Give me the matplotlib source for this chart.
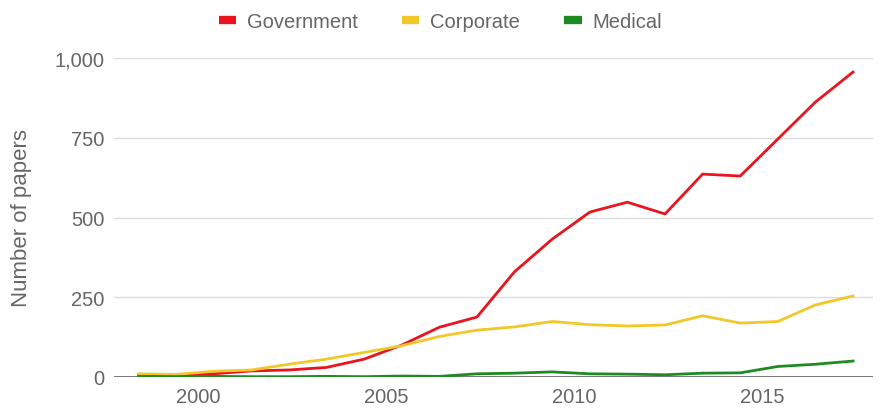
import matplotlib.pyplot as plt
from matplotlib.ticker import FuncFormatter

# yearly counts
years = list(range(1998, 2018))
government = [5, 5, 10, 19, 22, 30, 56, 100, 156, 188, 330, 432, 517, 548, 511, 636, 630, 746, 862, 956]
corporate = [10, 8, 18, 22, 40, 56, 77, 98, 127, 147, 157, 174, 164, 160, 163, 192, 169, 174, 226, 254]
medical = [2, 1, 2, 1, 1, 2, 1, 3, 2, 10, 12, 16, 10, 9, 7, 12, 13, 33, 40, 50]

y_ticks = [0, 250, 500, 750, 1000]
x_ticks = [2000, 2005, 2010, 2015]

TEXT = '#666666'
plt.rcParams['font.family'] = ['Liberation Sans', 'DejaVu Sans']

fig = plt.figure(figsize=(8.81, 4.14), dpi=100)
ax = fig.add_axes([114 / 881, 1 - 378 / 414, (873 - 114) / 881, (378 - 59) / 414])

# points sit mid-year on a date axis
xs = [y + 0.42 for y in years]
ax.plot(xs, government, color='#e8141e', lw=2.0, label='Government', solid_joinstyle='round')
ax.plot(xs, corporate, color='#f2c72a', lw=2.0, label='Corporate', solid_joinstyle='round')
ax.plot(xs, medical, color='#1e8a22', lw=2.0, label='Medical', solid_joinstyle='round')

ax.set_xlim(1997.77, 2017.95)
ax.set_ylim(0, 1000)
ax.set_yticks(y_ticks)
ax.set_xticks(x_ticks)
ax.yaxis.set_major_formatter(FuncFormatter(lambda v, p: '{:,.0f}'.format(v)))
ax.grid(axis='y', color='#dddddd', lw=1)
ax.axhline(0, color='#444444', lw=1.2, zorder=1)
for s in ax.spines.values():
    s.set_visible(False)
ax.tick_params(length=0, labelsize=14.5, colors=TEXT)
ax.tick_params(axis='y', pad=7)
ax.tick_params(axis='x', pad=7)
ax.set_ylabel('Number of papers', fontsize=16, color=TEXT, labelpad=16)

leg = fig.legend(loc='upper center', bbox_to_anchor=(0.5, 1.012), ncol=3, frameon=False,
                 fontsize=14.5, handlelength=0.85, handletextpad=0.55, columnspacing=2.2)
for h in leg.get_lines():
    h.set_linewidth(6)
    h.set_solid_capstyle('butt')
for t in leg.get_texts():
    t.set_color(TEXT)

fig.savefig('out.png', dpi=100)
